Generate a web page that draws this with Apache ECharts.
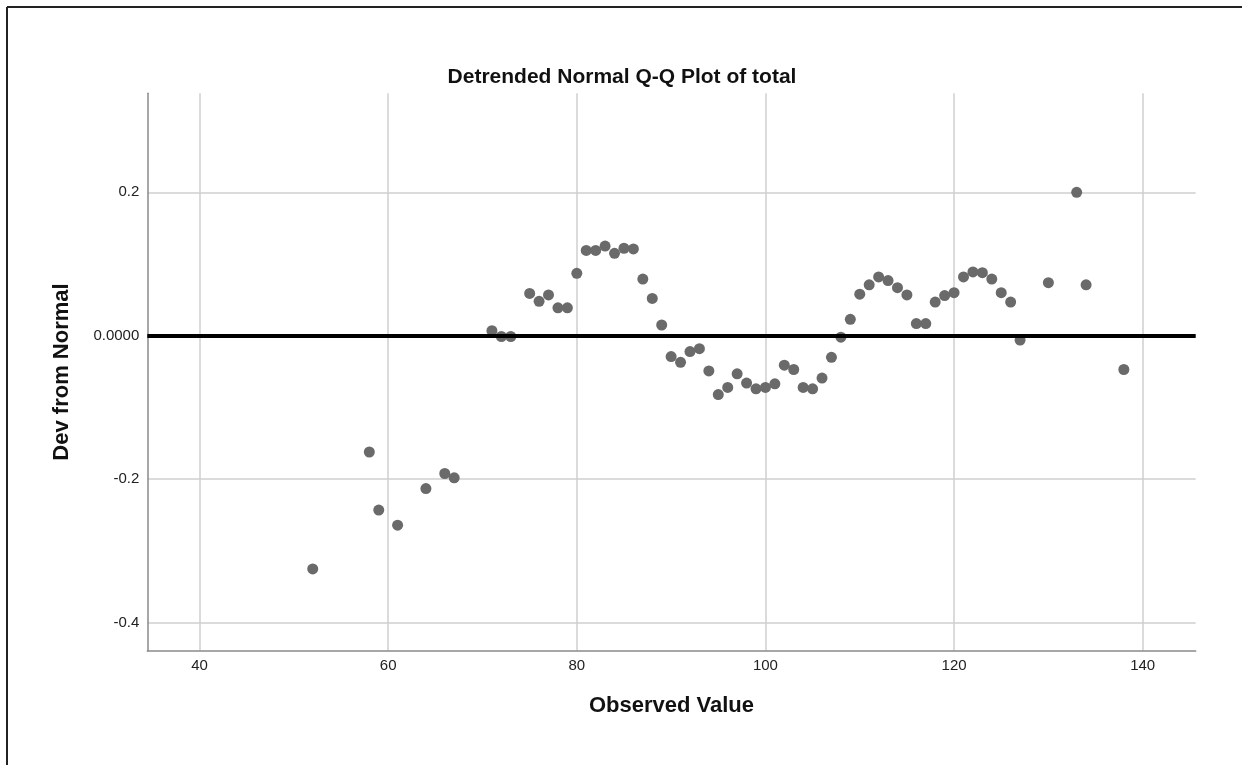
<!DOCTYPE html>
<html>
<head>
<meta charset="utf-8">
<script src="https://cdn.jsdelivr.net/npm/echarts@6/dist/echarts.min.js"></script>
<style>
html,body{margin:0;padding:0;background:#fff;}
#chart{width:1242px;height:765px;}
</style>
</head>
<body>
<div id="chart"></div>
<script>
const observed = [52,58,59,61,64,66,67,71,72,73,75,76,77,78,79,80,81,82,83,84,85,86,87,88,89,90,91,92,93,94,95,96,97,98,99,100,101,102,103,104,105,106,107,108,109,110,111,112,113,114,115,116,117,118,119,120,121,122,123,124,125,126,127,130,133,134,138];
const devFromNormal = [-0.325,-0.162,-0.243,-0.264,-0.213,-0.192,-0.198,0.007,-0.001,-0.001,0.059,0.048,0.057,0.039,0.039,0.087,0.119,0.119,0.125,0.115,0.122,0.121,0.079,0.052,0.015,-0.029,-0.037,-0.022,-0.018,-0.049,-0.082,-0.072,-0.053,-0.066,-0.074,-0.072,-0.067,-0.041,-0.047,-0.072,-0.074,-0.059,-0.030,-0.002,0.023,0.058,0.071,0.082,0.077,0.067,0.057,0.017,0.017,0.047,0.056,0.060,0.082,0.089,0.088,0.079,0.060,0.047,-0.006,0.074,0.200,0.071,-0.047];
const xTickValues = [40,60,80,100,120,140];
const yTickValues = [-0.4,-0.2,0,0.2];
const yTickLabels = ["-0.4","-0.2","0.0000","0.2"];

const points = observed.map((v,i)=>[v, devFromNormal[i]]);
const font = '"Liberation Sans", Arial, sans-serif';

const chart = echarts.init(document.getElementById('chart'));
chart.setOption({
  backgroundColor:'#fff',
  animation:false,
  title:{
    text:'Detrended Normal Q-Q Plot of total',
    left:617, top:62, textAlign:'center',
    textStyle:{fontFamily:font,fontSize:21,fontWeight:'bold',color:'#111'}
  },
  graphic:[
    {type:'line',shape:{x1:7,y1:7,x2:1242,y2:7},style:{stroke:'#222',lineWidth:2}},
    {type:'line',shape:{x1:7,y1:7,x2:7,y2:765},style:{stroke:'#222',lineWidth:2}}
  ],
  grid:{left:147.3,top:93.3,right:46.3,bottom:114.3},
  xAxis:{
    type:'value', min:34.46, max:145.62,
    name:'Observed Value', nameLocation:'middle', nameGap:44,
    nameTextStyle:{fontFamily:font,fontSize:22,fontWeight:'bold',color:'#111'},
    axisLine:{show:true,onZero:false,lineStyle:{color:'#8a8a8a',width:1.5}},
    axisTick:{show:false,customValues:xTickValues},
    axisLabel:{customValues:xTickValues,fontFamily:font,fontSize:15,color:'#222',margin:8},
    splitLine:{show:true,lineStyle:{color:'#cfcfcf',width:1.5}}
  },
  yAxis:{
    type:'value', min:-0.439, max:0.338,
    name:'Dev from Normal', nameLocation:'middle', nameGap:74, nameRotate:90,
    nameTextStyle:{fontFamily:font,fontSize:22,fontWeight:'bold',color:'#111'},
    axisLine:{show:true,onZero:false,lineStyle:{color:'#8a8a8a',width:1.5}},
    axisTick:{show:false,customValues:yTickValues},
    axisLabel:{customValues:yTickValues,fontFamily:font,fontSize:15,color:'#222',margin:8,
      formatter:function(v){const i=yTickValues.findIndex(t=>Math.abs(t-v)<1e-9);return i>=0?yTickLabels[i]:'';}},
    splitLine:{show:true,lineStyle:{color:'#cfcfcf',width:1.5}}
  },
  series:[{
    type:'scatter',
    data:points,
    symbolSize:11,
    itemStyle:{color:'#6a6a6a',opacity:1},
    markLine:{
      silent:true, symbol:['none','none'], label:{show:false},
      lineStyle:{color:'#000',width:4,type:'solid'},
      data:[{yAxis:0}]
    }
  }]
});
</script>
</body>
</html>
